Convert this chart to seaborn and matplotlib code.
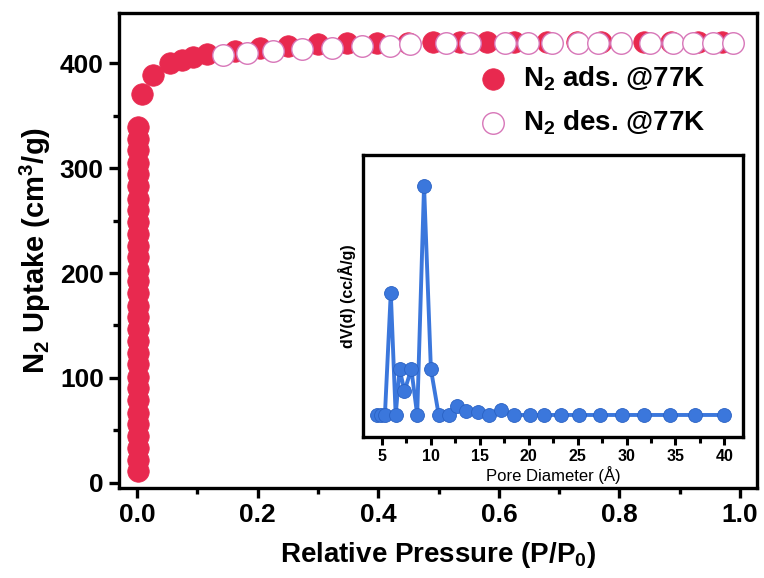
import numpy as np
import pandas as pd
import matplotlib
matplotlib.use("Agg")
import matplotlib.pyplot as plt
import seaborn as sns
from matplotlib.ticker import MultipleLocator

# ---------------- data ----------------
# adsorption: vertical column at very low pressure
ads_col_p = [0.002] * 30
ads_col_v = [11, 22, 33, 45, 56, 67, 79, 90, 101, 113, 124, 135, 147, 158, 169,
             181, 192, 203, 215, 226, 237, 249, 260, 271, 283, 294, 305, 317, 328, 339]
# adsorption: plateau branch
ads_p = [0.008, 0.027, 0.055, 0.074, 0.093, 0.116, 0.163, 0.204, 0.25, 0.30, 0.348,
         0.398, 0.45, 0.49, 0.535, 0.58, 0.625, 0.68, 0.73, 0.77, 0.84, 0.885, 0.93, 0.97]
ads_v = [371, 389, 400, 403, 406, 409, 412, 415, 417, 418, 419,
         419, 419, 420, 420, 420, 420, 420, 420, 420, 420, 420, 420, 420]
# desorption branch
des_p = [0.143, 0.182, 0.226, 0.273, 0.323, 0.373, 0.42, 0.453, 0.513, 0.552, 0.610,
         0.649, 0.688, 0.731, 0.764, 0.803, 0.851, 0.889, 0.922, 0.955, 0.988]
des_v = [408, 410, 412, 414, 415, 417, 417, 418, 419, 419, 419,
         419, 419, 419, 419, 419, 419, 419, 419, 419, 419]

# pore size distribution (inset)
pore_d = [4.5, 4.9, 5.3, 5.9, 6.4, 6.8, 7.3, 8.0, 8.6, 9.3, 10.0, 10.8, 11.8, 12.7,
          13.6, 14.8, 15.9, 17.2, 18.5, 20.1, 21.6, 23.3, 25.1, 27.3, 29.5, 31.8,
          34.4, 37.0, 40.0]
pore_dv = [0, 0, 0, 0.533, 0, 0.20, 0.105, 0.20, 0, 1.0, 0.20, 0, 0, 0.04,
           0.017, 0.012, 0, 0.02, 0, 0, 0, 0, 0, 0, 0, 0, 0, 0, 0]

main_xticks = [0.0, 0.2, 0.4, 0.6, 0.8, 1.0]
main_yticks = [0, 100, 200, 300, 400]
inset_xticks = [5, 10, 15, 20, 25, 30, 35, 40]

# ---------------- style ----------------
sns.set_style("white")
plt.rcParams["font.family"] = ["Liberation Sans", "DejaVu Sans"]
plt.rcParams["font.weight"] = "bold"
plt.rcParams["axes.labelweight"] = "bold"
plt.rcParams["mathtext.default"] = "regular"
for k in ["text.color", "axes.labelcolor", "xtick.color", "ytick.color"]:
    plt.rcParams[k] = "black"

RED = "#e8294f"
PINK_EDGE = "#d776b8"
BLUE = "#3b77dc"

fig = plt.figure(figsize=(7.64, 5.78), dpi=100)
ax = fig.add_axes([0.1558, 0.1557, 0.9908 - 0.1558, 0.9775 - 0.1557])

df_col = pd.DataFrame({"p": ads_col_p, "v": ads_col_v})
df_ads = pd.DataFrame({"p": ads_p, "v": ads_v})
df_des = pd.DataFrame({"p": des_p, "v": des_v})

ms = 15.5 ** 2
sns.scatterplot(data=df_col, x="p", y="v", ax=ax, s=ms, color=RED,
                edgecolor=RED, linewidth=0.5, zorder=3)
sns.scatterplot(data=df_ads, x="p", y="v", ax=ax, s=ms, color=RED,
                edgecolor=RED, linewidth=0.5, zorder=3, label=r"N$_2$ ads. @77K")
sns.scatterplot(data=df_des, x="p", y="v", ax=ax, s=ms, color="white",
                edgecolor=PINK_EDGE, linewidth=1.0, zorder=4, label=r"N$_2$ des. @77K")

ax.set_xlim(-0.03, 1.028)
ax.set_ylim(-5, 448)
ax.set_xticks(main_xticks)
ax.set_xticklabels([f"{t:.1f}" for t in main_xticks])
ax.set_yticks(main_yticks)
ax.xaxis.set_minor_locator(MultipleLocator(0.1))
ax.yaxis.set_minor_locator(MultipleLocator(50))
for s in ax.spines.values():
    s.set_linewidth(2.4)
    s.set_color("black")
ax.tick_params(which="major", direction="out", length=7, width=2.4,
               labelsize=19, pad=4, bottom=True, left=True)
ax.tick_params(which="minor", direction="out", length=4, width=2.4,
               bottom=True, left=True)
ax.set_xlabel(r"Relative Pressure (P/P$_0$)", fontsize=20, fontweight="bold", labelpad=9)
ax.set_ylabel(r"N$_2$ Uptake (cm$^3$/g)", fontsize=21, fontweight="bold", labelpad=5)

leg = ax.legend(loc="upper left", bbox_to_anchor=(0.525, 0.915), frameon=False,
                fontsize=20, handletextpad=0.1, labelspacing=0.55,
                markerscale=1.0, borderaxespad=0)
for t in leg.get_texts():
    t.set_fontweight("bold")

# ---------------- inset ----------------
axi = fig.add_axes([0.475, 0.244, 0.9725 - 0.475, 0.732 - 0.244])
df_pore = pd.DataFrame({"d": pore_d, "dv": pore_dv})
sns.lineplot(data=df_pore, x="d", y="dv", ax=axi, color=BLUE, linewidth=2.8,
             marker="o", markersize=10, markeredgecolor="#2a62c4",
             markeredgewidth=0.6, markerfacecolor=BLUE)
axi.set_xlim(3.05, 41.9)
axi.set_ylim(-0.096, 1.135)
axi.set_xticks(inset_xticks)
axi.xaxis.set_minor_locator(MultipleLocator(2.5))
axi.set_yticks([])
for s in axi.spines.values():
    s.set_linewidth(2.4)
    s.set_color("black")
axi.tick_params(which="major", direction="out", length=6, width=2.2,
                labelsize=11.5, pad=3, bottom=True)
axi.tick_params(which="minor", direction="out", length=4, width=2.2, bottom=True)
for lab in axi.get_xticklabels():
    lab.set_fontweight("bold")
axi.set_xlabel("Pore Diameter (Å)", fontsize=12, fontweight="normal", labelpad=1)
axi.set_ylabel("dV(d) (cc/Å/g)", fontsize=11.5, fontweight="bold", labelpad=5)

fig.savefig("out.png", dpi=100)
